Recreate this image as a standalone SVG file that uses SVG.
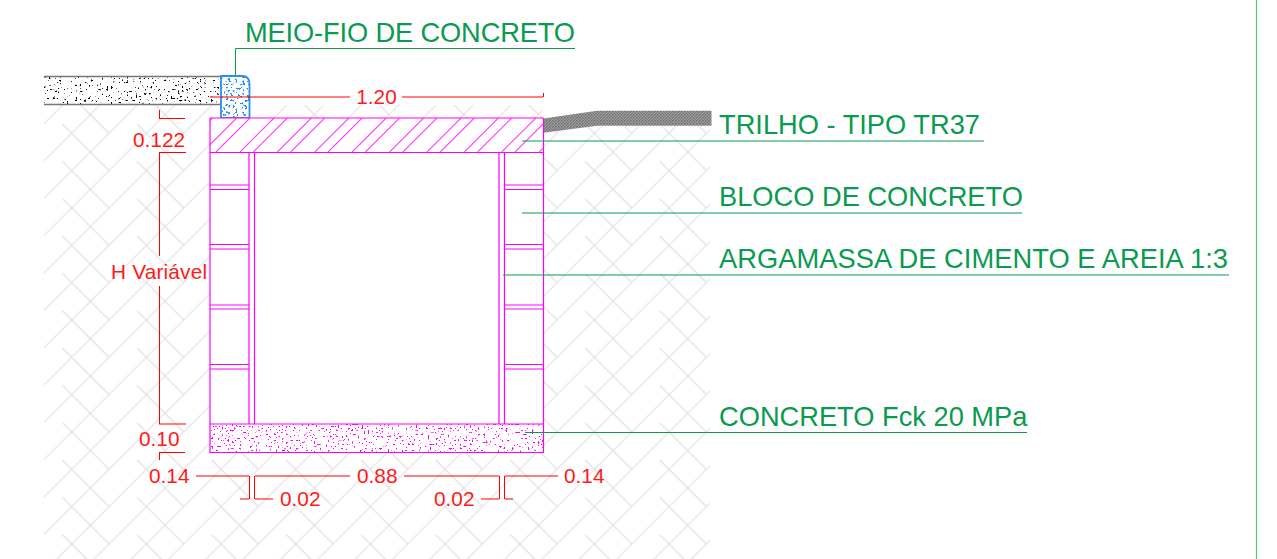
<svg xmlns="http://www.w3.org/2000/svg" width="1277" height="559" viewBox="0 0 1277 559">
<style>
text{font-family:"Liberation Sans",Arial,sans-serif}
.dim{font-size:20.8px;fill:#ff1a1a}
.lab{font-size:27.25px;fill:#0a9a50}
.r{fill:none;stroke:#f00;stroke-width:1}
.g{fill:none;stroke:#0a9a50;stroke-width:1}
.m{fill:none;stroke:#f0f;stroke-width:1.2}
.d{fill:none;stroke:#f4f;stroke-width:1.1}
</style>
<defs>
<pattern id="earth" width="105.6" height="105.6" patternUnits="userSpaceOnUse" patternTransform="translate(631.7 357.3) rotate(-45) translate(-13.2 -13.2)">
<path d="M0 13.2H105.6M0 39.6H105.6M0 66H105.6M0 92.4H105.6M13.2 52.8V105.6M13.2 0V13.2M39.6 26.4V92.4M66 0V66M92.4 79.2V105.6M92.4 0V39.6" fill="none" stroke="#e0e0e0" stroke-width="1.2"/>
</pattern>
<pattern id="rail" width="3" height="3" patternUnits="userSpaceOnUse">
<rect width="3" height="3" fill="#a2a2a2"/>
<rect width="1.5" height="1.5" fill="#6a6a6a"/>
<rect x="1.5" y="1.5" width="1.5" height="1.5" fill="#777"/>
</pattern>
<clipPath id="topClip"><rect x="210" y="118" width="333" height="34"/></clipPath>
<filter id="dotK" x="0" y="0" width="1" height="1" color-interpolation-filters="sRGB">
<feTurbulence type="fractalNoise" baseFrequency="0.45" numOctaves="1" seed="4"/>
<feColorMatrix values="0 0 0 0 0  0 0 0 0 0  0 0 0 0 0  16 0 0 0 -10.2"/>
<feComposite in2="SourceGraphic" operator="in"/>
</filter>
<filter id="dotB" x="0" y="0" width="1" height="1" color-interpolation-filters="sRGB">
<feTurbulence type="fractalNoise" baseFrequency="0.42" numOctaves="1" seed="9"/>
<feColorMatrix values="0 0 0 0 0.12  0 0 0 0 0.55  0 0 0 0 1  16 0 0 0 -9.2"/>
<feComposite in2="SourceGraphic" operator="in"/>
</filter>
<filter id="dotM" x="0" y="0" width="1" height="1" color-interpolation-filters="sRGB">
<feTurbulence type="fractalNoise" baseFrequency="0.5" numOctaves="1" seed="13"/>
<feColorMatrix values="0 0 0 0 1  0 0 0 0 0  0 0 0 0 1  16 0 0 0 -10.2"/>
<feComposite in2="SourceGraphic" operator="in"/>
</filter>
</defs>
<rect width="1277" height="559" fill="#fff"/>

<g id="soil"><path d="M44 105H543V133L597 126H710V559H44Z" fill="url(#earth)"/></g>

<g id="pavement">
<rect x="44" y="76" width="177" height="29" fill="#fff"/>
<rect x="44" y="76" width="177" height="29" fill="#000" filter="url(#dotK)"/>
<path d="M44 76.500H221M44 104.500H221" fill="none" stroke="#777" stroke-width="1.6"/>
</g>

<g id="curb">
<path d="M221 76H242Q249.500 76 249.500 84V118H221Z" fill="#fff"/>
<path d="M221 76H242Q249.500 76 249.500 84V118H221Z" fill="#000" filter="url(#dotB)"/>
<path d="M221 76H242Q249.500 76 249.500 84V118H221Z" fill="none" stroke="#2b8ff0" stroke-width="1.8"/>
</g>

<g id="rail-track"><path d="M543.500 118.500L597 110.700H711.500V125.700H597L543.500 132.700Z" fill="url(#rail)"/></g>

<g id="box">
<rect x="210" y="118" width="333" height="335" fill="#fff"/>
<g clip-path="url(#topClip)">
<path d="M202.600 152l34-34M240 152l34-34M277.400 152l34-34M314.800 152l34-34M352.200 152l34-34M389.600 152l34-34M427 152l34-34M464.400 152l34-34M501.800 152l34-34M539.200 152l34-34M178.500 152l34-34M215.900 152l34-34M253.300 152l34-34M290.700 152l34-34M328.100 152l34-34M365.500 152l34-34M402.900 152l34-34M440.300 152l34-34M477.700 152l34-34M515.100 152l34-34" class="d"/>
</g>
<path d="M210 118H543.500M210 152.500H543.500M210 118V453M249 152V424M499 152V424" class="m"/>
<path d="M254.500 152V424M504.500 152V424M543.500 118V453" class="m"/>
<path d="M210 185H249M210 189.500H249M210 244.500H249M210 249H249M210 305H249M210 309H249M210 364.500H249M210 369H249M504 185H543M504 189.500H543M504 244.500H543M504 249H543M504 305H543M504 309H543M504 364.500H543M504 369H543" class="m"/>
<rect x="210" y="424" width="333" height="28.500" fill="#000" filter="url(#dotM)"/>
<path d="M210 424H543.500M210 452.500H543.500" class="m"/>
</g>

<g id="connectors">
<path d="M235.500 76V48.500H575" class="g"/>
<path d="M522 141H984M522 213H1022M503 275H1229M525 432.500H1027" class="g"/>
<path d="M1256.500 0V559" fill="none" stroke="#50c585" stroke-width="1.2"/>
<path d="M210 97H350M402 97H543M543.500 93V97M159.500 110V118.500M159 118.500H185M159 152.500H186M159.500 152V256M159.500 286V424M159 424H186M159 452.500H185M159.500 452V460" class="r"/>
<path d="M196 476H249M249.500 476V499M240 499H249M254.500 476V499M255 476H350M255 499H273M404 476H499M499.500 476V499M481 499H499M504.500 476V499M505 476H558M505 499H513" class="r"/>
</g>

<g id="dim-labels">
<text class="dim" x="376.500" y="104" text-anchor="middle">1.20</text>
<text class="dim" x="133" y="147">0.122</text>
<text class="dim" x="111" y="279" textLength="96">H Variável</text>
<text class="dim" x="139" y="445.500">0.10</text>
<text class="dim" x="149" y="483">0.14</text>
<text class="dim" x="357" y="483">0.88</text>
<text class="dim" x="564" y="483">0.14</text>
<text class="dim" x="280" y="506">0.02</text>
<text class="dim" x="434" y="506">0.02</text>
</g>

<g id="label-meio-fio"><text class="lab" x="245" y="42" textLength="330">MEIO-FIO DE CONCRETO</text></g>
<g id="label-trilho"><text class="lab" x="719" y="134">TRILHO - TIPO TR37</text></g>
<g id="label-bloco"><text class="lab" x="719" y="206">BLOCO DE CONCRETO</text></g>
<g id="label-argamassa"><text class="lab" x="719" y="268" textLength="509">ARGAMASSA DE CIMENTO E AREIA 1:3</text></g>
<g id="label-concreto"><text class="lab" x="719" y="426">CONCRETO Fck 20 MPa</text></g>
</svg>
